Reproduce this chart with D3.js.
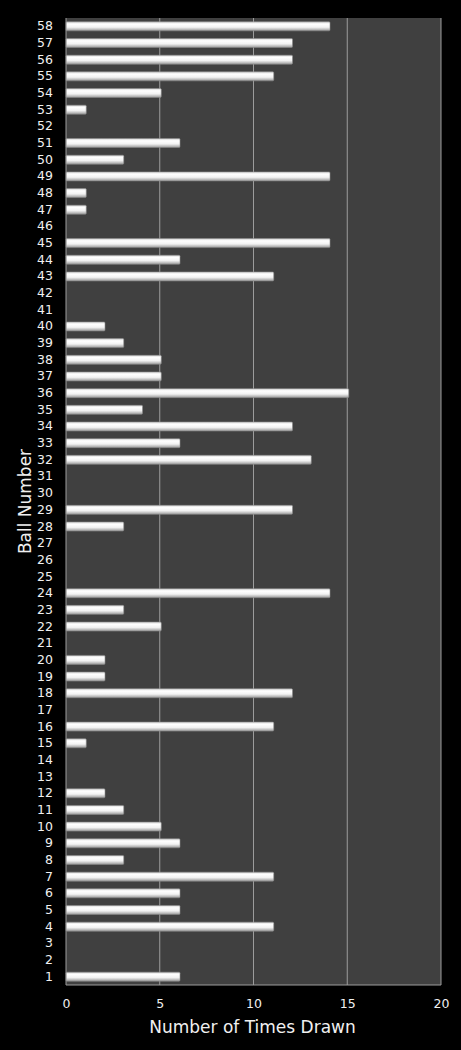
<!DOCTYPE html>
<html>
<head>
<meta charset="utf-8">
<script src="https://cdn.jsdelivr.net/npm/d3@7"></script>
<style>
  body { margin: 0; background: #000; }
  svg { display: block; }
</style>
</head>
<body>
<div id="chart"></div>
<script>
// ball numbers 1..58 and how often each was drawn
const balls = d3.range(1, 59);
const timesDrawn = [
  6, 0, 0, 11, 6, 6, 11, 3, 6, 5,     // 1-10
  3, 2, 0, 0, 1, 11, 0, 12, 2, 2,     // 11-20
  0, 5, 3, 14, 0, 0, 0, 3, 12, 0,     // 21-30
  0, 13, 6, 12, 4, 15, 5, 5, 3, 2,    // 31-40
  0, 0, 11, 6, 14, 0, 1, 1, 14, 3,    // 41-50
  6, 0, 1, 5, 11, 12, 12, 14          // 51-58
];
const xTicks = [0, 5, 10, 15, 20];

const data = balls.map((b, i) => ({ ball: b, count: timesDrawn[i] }));

const config = {
  width: 461,
  height: 1050,
  margin: { top: 18, right: 20, bottom: 65, left: 66 }
};
const innerW = config.width - config.margin.left - config.margin.right;
const innerH = config.height - config.margin.top - config.margin.bottom;
const font = 'DejaVu Sans, Verdana, sans-serif';

const svg = d3.select('#chart').append('svg')
  .attr('width', config.width)
  .attr('height', config.height);

// bevelled white bar fill
const grad = svg.append('defs').append('linearGradient')
  .attr('id', 'barGrad')
  .attr('x1', 0).attr('y1', 0).attr('x2', 0).attr('y2', 1);
grad.append('stop').attr('offset', '0%').attr('stop-color', '#d8d8d8');
grad.append('stop').attr('offset', '25%').attr('stop-color', '#ffffff');
grad.append('stop').attr('offset', '60%').attr('stop-color', '#f2f2f2');
grad.append('stop').attr('offset', '100%').attr('stop-color', '#9a9a9a');

const g = svg.append('g')
  .attr('transform', `translate(${config.margin.left},${config.margin.top})`);

const x = d3.scaleLinear().domain([0, 20]).range([0, innerW]);
const y = d3.scaleBand()
  .domain(balls.slice().reverse())
  .range([0, innerH])
  .paddingInner(0.46)
  .paddingOuter(0.23);

// plot background
g.append('rect')
  .attr('width', innerW)
  .attr('height', innerH)
  .attr('fill', '#404040');

// vertical gridlines
g.selectAll('.grid')
  .data(xTicks.slice(1))
  .enter().append('line')
  .attr('x1', d => x(d)).attr('x2', d => x(d))
  .attr('y1', 0).attr('y2', innerH)
  .attr('stroke', '#9c9c9c')
  .attr('stroke-width', 1);

// bars
g.selectAll('.bar')
  .data(data.filter(d => d.count > 0))
  .enter().append('rect')
  .attr('class', 'bar')
  .attr('x', 0)
  .attr('y', d => y(d.ball))
  .attr('width', d => x(d.count) + 1.5)
  .attr('height', y.bandwidth())
  .attr('fill', 'url(#barGrad)')
  .attr('stroke', '#8a8a8a')
  .attr('stroke-width', 0.6)
  .attr('rx', 1);

// plot frame (left + bottom)
g.append('line')
  .attr('x1', 0).attr('x2', 0).attr('y1', 0).attr('y2', innerH)
  .attr('stroke', '#9c9c9c');
g.append('line')
  .attr('x1', 0).attr('x2', innerW).attr('y1', innerH).attr('y2', innerH)
  .attr('stroke', '#9c9c9c');

// axes
const xAxis = g.append('g')
  .attr('transform', `translate(0,${innerH})`)
  .call(d3.axisBottom(x).tickValues(xTicks).tickSize(0).tickPadding(14));
const yAxis = g.append('g')
  .call(d3.axisLeft(y).tickSize(0).tickPadding(13));

[xAxis, yAxis].forEach(a => {
  a.select('.domain').remove();
  a.selectAll('text')
    .attr('fill', '#f0f0f0')
    .style('font-family', font)
    .style('font-size', '12.5px');
});

// axis titles
svg.append('text')
  .attr('x', config.margin.left + innerW / 2 - 1)
  .attr('y', 1033)
  .attr('text-anchor', 'middle')
  .attr('fill', '#f0f0f0')
  .style('font-family', font)
  .style('font-size', '17px')
  .text('Number of Times Drawn');

svg.append('text')
  .attr('transform', `translate(31,${config.margin.top + innerH / 2}) rotate(-90)`)
  .attr('text-anchor', 'middle')
  .attr('fill', '#f0f0f0')
  .style('font-family', font)
  .style('font-size', '17px')
  .text('Ball Number');
</script>
</body>
</html>
